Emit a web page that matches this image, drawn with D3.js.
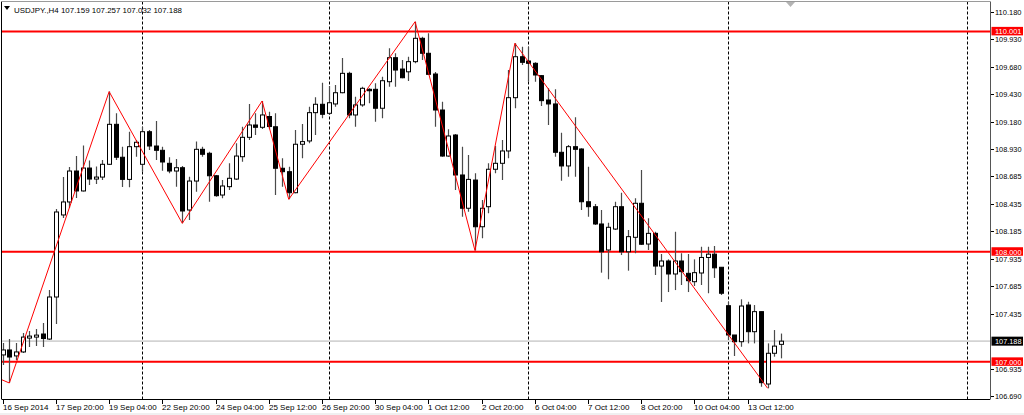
<!DOCTYPE html>
<html><head><meta charset="utf-8">
<script src="https://cdn.jsdelivr.net/npm/d3@7/dist/d3.min.js"></script>
<style>
html,body{margin:0;padding:0;background:#fff;}
svg{display:block;}
text{font-family:"Liberation Sans",Arial,sans-serif;}
</style></head>
<body>
<script>
// ---- DATA ----
const symbolTitle = "USDJPY.,H4";
const lastOHLC = [107.159, 107.257, 107.032, 107.188];
const opens = [107.063,107.108,107.054,107.090,107.216,107.225,107.253,107.207,107.589,108.334,
108.452,108.733,108.552,108.760,108.660,108.678,108.794,109.157,108.858,108.657,
108.954,108.794,109.090,108.960,108.921,108.803,108.733,108.763,108.379,108.642,
108.930,108.894,108.690,108.515,108.591,108.660,108.863,109.039,109.151,109.130,
109.228,109.135,108.758,108.727,108.536,108.976,109.006,109.263,109.339,109.257,
109.342,109.444,109.620,109.242,109.333,109.475,109.475,109.303,109.544,109.762,
109.659,109.634,109.726,109.938,109.802,109.614,109.287,108.869,109.060,108.697,
108.395,108.651,108.227,108.409,108.749,108.803,108.915,109.399,109.771,109.732,
109.711,109.599,109.378,109.342,108.903,108.779,108.954,108.933,108.454,108.409,
108.252,108.016,108.206,108.409,108.000,108.131,108.440,108.070,108.167,107.870,
107.916,107.798,107.916,107.804,107.728,107.807,107.948,107.978,107.859,107.510,
107.244,107.183,107.516,107.274,107.456,106.799,107.078,107.159];
const highs = [107.171,107.207,107.171,107.262,107.280,107.298,107.353,107.652,108.388,108.678,
108.769,108.869,108.965,108.828,108.774,108.833,109.454,109.257,108.954,109.090,
109.015,109.135,109.105,109.187,108.954,108.858,108.842,108.779,108.681,109.000,
108.954,108.908,108.697,108.651,108.803,108.985,109.135,109.342,109.257,109.369,
109.272,109.257,108.848,108.772,109.105,109.160,109.317,109.402,109.535,109.505,
109.514,109.759,109.635,109.408,109.499,109.484,109.530,109.590,109.847,109.802,
109.741,109.771,110.089,109.953,109.984,109.632,109.362,109.112,109.069,108.954,
108.878,108.712,108.470,108.803,108.960,109.015,109.650,109.893,109.862,109.862,
109.720,109.605,109.484,109.475,109.081,108.969,109.221,108.939,108.772,108.434,
108.379,108.264,108.454,108.536,108.197,108.485,108.742,108.304,108.182,107.979,
107.931,108.182,107.986,107.979,107.931,108.046,108.046,108.052,107.859,107.546,
107.244,107.568,107.546,107.516,107.456,107.168,107.289,107.257];
const lows = [106.972,106.808,107.017,107.081,107.134,107.143,107.134,107.198,107.344,108.306,
108.397,108.488,108.547,108.606,108.615,108.651,108.787,108.833,108.588,108.585,
108.863,108.727,108.924,108.833,108.736,108.712,108.591,108.258,108.288,108.545,
108.863,108.454,108.500,108.485,108.561,108.651,108.818,109.015,109.060,109.115,
109.112,108.515,108.591,108.476,108.531,108.848,108.985,109.060,109.212,109.242,
109.317,109.439,109.212,109.135,109.317,109.348,109.181,109.212,109.499,109.499,
109.575,109.550,109.711,109.741,109.605,109.135,108.863,108.863,108.561,108.318,
108.364,108.011,108.122,108.349,108.712,108.651,108.848,109.303,109.696,109.544,
109.544,109.323,109.151,108.863,108.645,108.681,108.681,108.379,108.318,108.243,
107.810,107.750,108.197,107.970,107.828,107.986,108.061,108.016,107.789,107.544,
107.634,107.652,107.698,107.634,107.689,107.698,107.623,107.762,107.607,107.198,
107.053,107.137,107.168,107.168,106.774,106.760,107.047,107.032];
const closes = [107.108,107.044,107.090,107.225,107.234,107.243,107.212,107.589,108.361,108.452,
108.733,108.552,108.760,108.660,108.678,108.794,109.157,108.858,108.657,108.954,
108.994,109.090,108.960,108.921,108.815,108.733,108.763,108.370,108.642,108.930,
108.885,108.690,108.509,108.597,108.667,108.869,109.039,109.151,109.130,109.242,
109.137,108.758,108.727,108.536,108.976,109.000,109.263,109.339,109.248,109.353,
109.444,109.620,109.242,109.333,109.484,109.462,109.303,109.553,109.762,109.650,
109.580,109.726,109.938,109.802,109.611,109.287,108.869,109.051,108.697,108.395,
108.657,108.227,108.395,108.749,108.803,108.915,109.399,109.771,109.720,109.711,
109.605,109.372,109.342,108.903,108.779,108.954,108.930,108.454,108.409,108.252,
108.000,108.222,108.409,108.000,108.137,108.440,108.068,108.167,107.870,107.916,
107.798,107.916,107.819,107.737,107.810,107.948,107.978,107.854,107.623,107.244,
107.183,107.507,107.274,107.456,106.811,107.078,107.143,107.188];
// zigzag pivots: bar index and price (first pivot lies left of the visible area)
const zigzagBars   = [-12, 1, 16, 27, 39, 43, 62, 71, 77, 115];
const zigzagPrices = [107.147, 106.808, 109.454, 108.258, 109.369, 108.476, 110.089, 108.011, 109.893, 106.760];
const levelLines = [110.001, 108.000, 107.000];
const priceTicks = [110.180,109.930,109.680,109.430,109.180,108.930,108.685,108.435,108.185,107.935,107.685,107.435,106.935,106.690];
const timeTickBars = [0,8,16,24,32,40,48,56,64,72,80,88,96,104,112];
const timeTickLabels = ["16 Sep 2014","17 Sep 20:00","19 Sep 04:00","22 Sep 20:00","24 Sep 04:00","25 Sep 12:00","26 Sep 20:00","30 Sep 04:00","1 Oct 12:00","2 Oct 20:00","6 Oct 04:00","7 Oct 12:00","8 Oct 20:00","10 Oct 04:00","13 Oct 12:00"];
const separatorBars = [21, 49, 79, 109, 145];

// ---- LAYOUT ----
const W = 1024, H = 415;
const plot = {left: 1.5, top: 1.5, right: 990, bottom: 399};
const x = d3.scaleLinear().domain([0, 112]).range([2.7, 747.7]);
const y = d3.scaleLinear().domain([106.690, 110.180]).range([396, 11.67]);
const FS = "8px";

const svg = d3.select("body").append("svg").attr("width", W).attr("height", H);
svg.append("rect").attr("width", W).attr("height", H).attr("fill", "#fff");

const defs = svg.append("defs");
defs.append("clipPath").attr("id","clip").append("rect")
  .attr("x", plot.left).attr("y", plot.top)
  .attr("width", plot.right - plot.left).attr("height", plot.bottom - plot.top);

const g = svg.append("g").attr("clip-path","url(#clip)");

// period separators
g.selectAll("line.sep").data(separatorBars).join("line")
  .attr("x1", d => Math.round(x(d)) + 0.5).attr("x2", d => Math.round(x(d)) + 0.5)
  .attr("y1", plot.top).attr("y2", plot.bottom)
  .attr("stroke", "#000").attr("stroke-width", 1).attr("stroke-dasharray", "3,2");

// bid line
g.append("line")
  .attr("x1", plot.left).attr("x2", plot.right)
  .attr("y1", y(lastOHLC[3])).attr("y2", y(lastOHLC[3]))
  .attr("stroke", "#d3d3d3").attr("stroke-width", 1.6);

// horizontal levels
g.selectAll("line.lvl").data(levelLines).join("line")
  .attr("x1", plot.left).attr("x2", plot.right)
  .attr("y1", d => y(d)).attr("y2", d => y(d))
  .attr("stroke", "#f00").attr("stroke-width", 2);

// candles
const bars = d3.range(opens.length).map(i => ({i, o: opens[i], h: highs[i], l: lows[i], c: closes[i]}));
const cg = g.append("g");
cg.selectAll("line.wick").data(bars).join("line")
  .attr("x1", d => Math.round(x(d.i)) + 0.5).attr("x2", d => Math.round(x(d.i)) + 0.5)
  .attr("y1", d => y(d.h)).attr("y2", d => y(d.l))
  .attr("stroke", "#4a4a4a").attr("stroke-width", 1.2);
cg.selectAll("rect.body").data(bars).join("rect")
  .attr("x", d => Math.round(x(d.i)) - 1.5)
  .attr("width", 4)
  .attr("y", d => y(Math.max(d.o, d.c)))
  .attr("height", d => Math.max(1, Math.abs(y(d.o) - y(d.c))))
  .attr("fill", d => d.c >= d.o ? "#fff" : "#000")
  .attr("stroke", "#000").attr("stroke-width", 1);

// zigzag
const zz = zigzagBars.map((b, k) => [x(b), y(zigzagPrices[k])]);
g.append("path").attr("d", d3.line()(zz))
  .attr("fill","none").attr("stroke","#f00").attr("stroke-width",1);

// frame
svg.append("line").attr("x1",1.5).attr("x2",1.5).attr("y1",1.5).attr("y2",plot.bottom).attr("stroke","#000");
svg.append("line").attr("x1",1.5).attr("x2",plot.right).attr("y1",1.5).attr("y2",1.5).attr("stroke","#9a9a9a");
svg.append("line").attr("x1",1.5).attr("x2",plot.right).attr("y1",plot.bottom+0.5).attr("y2",plot.bottom+0.5).attr("stroke","#000");
svg.append("line").attr("x1",plot.right+0.5).attr("x2",plot.right+0.5).attr("y1",1.5).attr("y2",plot.bottom+0.5).attr("stroke","#555");

// shift marker
svg.append("path").attr("d","M786,2 L795,2 L790.5,7 Z").attr("fill","#b4b4b4");

// title
svg.append("path").attr("d","M4,6 L10,6 L7,10 Z").attr("fill","#000");
svg.append("text").attr("x",14).attr("y",12.5).attr("font-size",FS).attr("fill","#000")
  .attr("textLength", 168).attr("lengthAdjust","spacingAndGlyphs")
  .text(symbolTitle + "  " + lastOHLC.map(v => v.toFixed(3)).join(" "));

// right axis ticks + labels
const ra = svg.append("g");
ra.selectAll("line").data(priceTicks).join("line")
  .attr("x1", plot.right+1).attr("x2", plot.right+4)
  .attr("y1", d => Math.round(y(d)) + 0.5).attr("y2", d => Math.round(y(d)) + 0.5)
  .attr("stroke","#000");
ra.selectAll("text").data(priceTicks).join("text")
  .attr("x", 995).attr("y", d => y(d) + 3)
  .attr("font-size",FS).attr("fill","#000")
  .attr("textLength", 26.5).attr("lengthAdjust","spacingAndGlyphs")
  .text(d => d.toFixed(3));

// level labels (drawn over the tick labels, as in the terminal)
const lv = svg.append("g");
lv.selectAll("rect").data(levelLines).join("rect")
  .attr("x", 991.5).attr("y", d => y(d) - 4.5).attr("width", 31.5).attr("height", 8.5)
  .attr("fill", "#f00");
lv.selectAll("text").data(levelLines).join("text")
  .attr("x", 995).attr("y", d => y(d) + 2.8)
  .attr("font-size",FS).attr("fill","#fff")
  .attr("textLength", 26.5).attr("lengthAdjust","spacingAndGlyphs")
  .text(d => d.toFixed(3));
// bid label
svg.append("rect").attr("x",991.5).attr("y", y(lastOHLC[3]) - 4.5).attr("width",31.5).attr("height",9).attr("fill","#000");
svg.append("text").attr("x",995).attr("y", y(lastOHLC[3]) + 3).attr("font-size",FS).attr("fill","#fff")
  .attr("textLength", 26.5).attr("lengthAdjust","spacingAndGlyphs")
  .text(lastOHLC[3].toFixed(3));

// bottom axis
const ba = svg.append("g");
ba.selectAll("line").data(timeTickBars).join("line")
  .attr("x1", d => Math.round(x(d)) + 0.5).attr("x2", d => Math.round(x(d)) + 0.5)
  .attr("y1", plot.bottom+1).attr("y2", plot.bottom+5)
  .attr("stroke","#000");
ba.selectAll("text").data(timeTickBars).join("text")
  .attr("x", d => Math.round(x(d)))
  .attr("y", 409.5)
  .attr("font-size",FS).attr("fill","#000")
  .text((d,k) => timeTickLabels[k]);

svg.append("rect").attr("x",0).attr("y",413).attr("width",W).attr("height",2).attr("fill","#f0f0f0");
</script>
</body></html>
